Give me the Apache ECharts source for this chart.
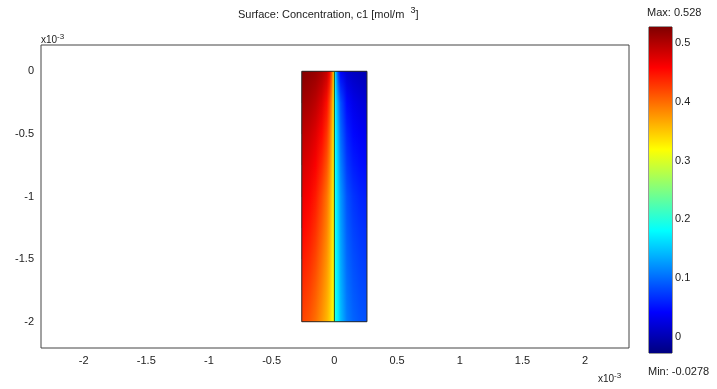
<!DOCTYPE html>
<html><head><meta charset="utf-8">
<script src="https://cdn.jsdelivr.net/npm/echarts@6/dist/echarts.min.js"></script>
<style>html,body{margin:0;padding:0;background:#fff}#c{width:717px;height:389px}</style>
</head><body><div id="c"></div>
<script>
// ---- data (x, y in units of 1e-3 m) ----
const xTickValues = [-2, -1.5, -1, -0.5, 0, 0.5, 1, 1.5, 2];
const yTickValues = [0, -0.5, -1, -1.5, -2];
const cbTickValues = [0, 0.1, 0.2, 0.3, 0.4, 0.5];
const cMin = -0.0278, cMax = 0.528;
const domainCorners = [[-0.26, 0], [0.26, 0], [0.26, -2], [-0.26, -2], [-0.26, 0]];
const membrane = [[0, 0], [0, -2]];
// sample columns across the channel (two at 0: jump across the membrane)
const xCols = [-0.26, -0.2, -0.15, -0.1, -0.06, -0.04, -0.02, -0.01, 0, 0, 0.01, 0.03, 0.05, 0.1, 0.15, 0.2, 0.26];
// depth of each sampled row (positive downwards)
const rowDepths = [0, 0.25, 0.5, 0.75, 1.0, 1.25, 1.5, 1.75, 2.0];
const conc0_00 = [0.525, 0.52, 0.515, 0.505, 0.49, 0.465, 0.41, 0.36, 0.31, 0.19, 0.15, 0.08, 0.04, 0.015, 0.008, 0.004, 0.0];
const conc0_25 = [0.51, 0.505, 0.495, 0.478, 0.452, 0.425, 0.378, 0.342, 0.31, 0.19, 0.168, 0.125, 0.085, 0.045, 0.03, 0.023, 0.02];
const conc0_50 = [0.495, 0.488, 0.476, 0.456, 0.43, 0.405, 0.362, 0.335, 0.31, 0.195, 0.176, 0.14, 0.10, 0.06, 0.045, 0.038, 0.035];
const conc0_75 = [0.482, 0.474, 0.46, 0.438, 0.412, 0.39, 0.353, 0.331, 0.31, 0.197, 0.181, 0.148, 0.113, 0.072, 0.057, 0.05, 0.047];
const conc1_00 = [0.47, 0.46, 0.445, 0.42, 0.395, 0.375, 0.345, 0.328, 0.31, 0.20, 0.185, 0.155, 0.125, 0.085, 0.07, 0.062, 0.058];
const conc1_25 = [0.458, 0.448, 0.433, 0.409, 0.386, 0.368, 0.34, 0.325, 0.31, 0.20, 0.187, 0.159, 0.13, 0.092, 0.077, 0.07, 0.066];
const conc1_50 = [0.446, 0.436, 0.421, 0.398, 0.377, 0.361, 0.336, 0.322, 0.31, 0.20, 0.189, 0.163, 0.135, 0.098, 0.084, 0.077, 0.073];
const conc1_75 = [0.434, 0.424, 0.409, 0.388, 0.368, 0.354, 0.332, 0.32, 0.31, 0.20, 0.19, 0.166, 0.14, 0.104, 0.09, 0.083, 0.08];
const conc2_00 = [0.422, 0.412, 0.398, 0.378, 0.36, 0.347, 0.328, 0.318, 0.31, 0.20, 0.192, 0.17, 0.145, 0.11, 0.096, 0.089, 0.086];
const concRows = [conc0_00, conc0_25, conc0_50, conc0_75, conc1_00, conc1_25, conc1_50, conc1_75, conc2_00];

// ---- colormap (jet) ----
function clamp(v) { return Math.max(0, Math.min(1, v)); }
function jet(t) {
  t = clamp(t);
  const r = clamp(1.5 - Math.abs(4 * t - 3));
  const g = clamp(1.5 - Math.abs(4 * t - 2));
  const b = clamp(1.5 - Math.abs(4 * t - 1));
  return 'rgb(' + Math.round(r * 255) + ',' + Math.round(g * 255) + ',' + Math.round(b * 255) + ')';
}
function colorOf(v) { return jet((v - cMin) / (cMax - cMin)); }
function rowGradient(vals) {
  const x0 = xCols[0], x1 = xCols[xCols.length - 1];
  return new echarts.graphic.LinearGradient(0, 0, 1, 0,
    xCols.map((x, j) => ({ offset: (x - x0) / (x1 - x0), color: colorOf(vals[j]) })));
}

// one item per band between two sampled rows
const bandData = rowDepths.slice(0, -1).map((d, i) => [0, -d, i]);

const font = 'Liberation Sans';
const chart = echarts.init(document.getElementById('c'), null, { renderer: 'canvas' });
chart.setOption({
  animation: false,
  backgroundColor: '#fff',
  grid: [
    { left: 41, top: 45, width: 588, height: 303, show: true, borderColor: '#444', borderWidth: 1, backgroundColor: 'transparent' },
    { left: 649, top: 27, width: 23, height: 326, show: true, borderColor: '#333', borderWidth: 1, backgroundColor: 'transparent' }
  ],
  xAxis: [
    { gridIndex: 0, type: 'value', min: -2.34, max: 2.35,
      axisLine: { show: false }, axisTick: { show: false }, splitLine: { show: false },
      axisLabel: { customValues: xTickValues, margin: 7, color: '#222', fontFamily: font, fontSize: 11 } },
    { gridIndex: 1, type: 'value', min: 0, max: 1, show: false }
  ],
  yAxis: [
    { gridIndex: 0, type: 'value', min: -2.21, max: 0.21,
      axisLine: { show: false }, axisTick: { show: false }, splitLine: { show: false },
      axisLabel: { customValues: yTickValues, margin: 7, color: '#222', fontFamily: font, fontSize: 11 } },
    { gridIndex: 1, type: 'value', min: cMin, max: cMax, position: 'right',
      axisLine: { show: false }, splitLine: { show: false },
      axisTick: { show: true, customValues: cbTickValues, length: 3, lineStyle: { color: '#333' } },
      axisLabel: { customValues: cbTickValues, margin: 3, color: '#222', fontFamily: font, fontSize: 11 } }
  ],
  series: [
    {
      type: 'custom', xAxisIndex: 0, yAxisIndex: 0, data: bandData, encode: { x: 0, y: 1 },
      renderItem: function (params, api) {
        const i = api.value(2);
        const x0 = xCols[0], x1 = xCols[xCols.length - 1];
        const p0 = api.coord([x0, -rowDepths[i]]);
        const p1 = api.coord([x1, -rowDepths[i + 1]]);
        const h = p1[1] - p0[1];
        const yStart = Math.round(p0[1]);
        const yEnd = Math.round(p1[1]);
        const gA = rowGradient(concRows[i]);
        const gB = rowGradient(concRows[i + 1]);
        const children = [];
        for (let y = yStart; y < yEnd; y++) {
          const f = clamp((y + 0.5 - p0[1]) / h);
          const sh = { x: p0[0], y: y, width: p1[0] - p0[0], height: 1 };
          children.push({ type: 'rect', shape: sh, style: { fill: gA } });
          children.push({ type: 'rect', shape: sh, style: { fill: gB, opacity: f } });
        }
        return { type: 'group', children: children };
      },
      z: 1
    },
    { type: 'line', xAxisIndex: 0, yAxisIndex: 0, data: domainCorners, symbol: 'none',
      lineStyle: { color: '#2a2a2a', width: 1 }, z: 3 },
    { type: 'line', xAxisIndex: 0, yAxisIndex: 0, data: membrane, symbol: 'none',
      lineStyle: { color: '#2f4a1a', width: 1 }, z: 3 },
    {
      type: 'custom', xAxisIndex: 1, yAxisIndex: 1, data: [[0.5, 0.25]],
      renderItem: function (params, api) {
        const p0 = api.coord([0, cMax]);
        const p1 = api.coord([1, cMin]);
        const stops = [];
        for (let k = 0; k <= 40; k++) stops.push({ offset: k / 40, color: jet(1 - k / 40) });
        return { type: 'rect', shape: { x: p0[0], y: p0[1], width: p1[0] - p0[0], height: p1[1] - p0[1] },
          style: { fill: new echarts.graphic.LinearGradient(0, 0, 0, 1, stops) } };
      }
    }
  ],
  graphic: [
    { type: 'text', left: 238, top: 6, style: { text: 'Surface: Concentration, c1 [mol/m  {s|3}]', fontFamily: font, fontSize: 11, fill: '#222',
        rich: { s: { fontSize: 9, fontFamily: font, fill: '#222', padding: [0, 0, 9, 0] } } } },
    { type: 'text', left: 647, top: 7, style: { text: 'Max: 0.528', fontFamily: font, fontSize: 11, fill: '#222' } },
    { type: 'text', left: 648, top: 366, style: { text: 'Min: -0.0278', fontFamily: font, fontSize: 11, fill: '#222' } },
    { type: 'text', left: 41, top: 33, style: { text: 'x10{s|-3}', fontFamily: font, fontSize: 10, fill: '#222',
        rich: { s: { fontSize: 8, fontFamily: font, fill: '#222', padding: [0, 0, 7, 0] } } } },
    { type: 'text', left: 598, top: 372, style: { text: 'x10{s|-3}', fontFamily: font, fontSize: 10, fill: '#222',
        rich: { s: { fontSize: 8, fontFamily: font, fill: '#222', padding: [0, 0, 7, 0] } } } }
  ]
});
</script></body></html>
